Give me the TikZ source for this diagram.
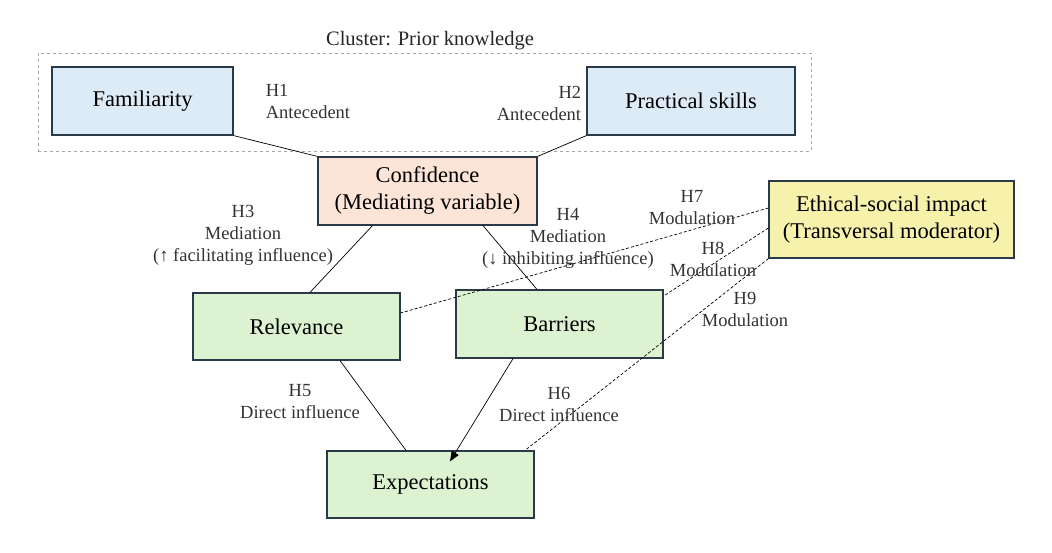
\documentclass[tikz,border=0pt]{standalone}
\usepackage{fontspec}
\setmainfont{Liberation Serif}
\usetikzlibrary{arrows.meta}
\definecolor{bluef}{HTML}{DDEBF7}
\definecolor{peach}{HTML}{FCE4D6}
\definecolor{greenf}{HTML}{DCF2D0}
\definecolor{yell}{HTML}{F6F2AC}
\definecolor{edge}{HTML}{2B3A48}
\begin{document}
\begin{tikzpicture}[x=1pt,y=-1pt,
 box/.style={draw=edge,line width=1.2pt,font=\fontsize{22.5}{27}\selectfont,align=center,inner sep=0pt},
 lab/.style={font=\fontsize{18.5}{22}\selectfont,align=center,text=black!80,inner sep=1pt},
 link/.style={line width=0.7pt},
 mod/.style={line width=0.7pt,dash pattern=on 3pt off 2pt}]
\useasboundingbox (0,0) rectangle (1052,553);
\node[draw=gray!70,dashed,minimum width=773pt,minimum height=98pt,inner sep=0pt] (cl) at (424.5,102) {};
\node[font=\fontsize{20.5}{24}\selectfont,text=black!85] (clt) at (430,41) {Cluster: Prior knowledge};
\node[box,fill=bluef,minimum width=181pt,minimum height=68pt] (fam) at (142.5,101) {Familiarity};
\node[box,fill=bluef,minimum width=208pt,minimum height=68pt] (pra) at (691,101) {Practical skills};
\node[box,fill=peach,minimum width=219pt,minimum height=68pt] (con) at (427.5,191) {Confidence\\(Mediating variable)};
\node[box,fill=yell,minimum width=245pt,minimum height=77pt] (eth) at (891.5,219.5) {Ethical-social impact\\(Transversal moderator)};
\node[box,fill=greenf,minimum width=207pt,minimum height=67pt] (rel) at (296.5,326.5) {Relevance};
\node[box,fill=greenf,minimum width=207pt,minimum height=68pt] (bar) at (559.5,324) {Barriers};
\node[box,fill=greenf,minimum width=207pt,minimum height=67pt] (exp) at (430.5,484.5) {Expectations};
\draw[link] (fam.south east) -- (con.north west);
\draw[link] (pra.south west) -- (con.north east);
\draw[link] ([xshift=-55pt]con.south) -- ([xshift=13.5pt]rel.north);
\draw[link] ([xshift=55.5pt]con.south) -- ([xshift=-22.5pt]bar.north);
\draw[link] ([xshift=43.5pt]rel.south) -- ([xshift=-24.5pt]exp.north);
\draw[link,-{Triangle[length=10pt,width=8pt]}] ([xshift=-46.5pt]bar.south) -- ([xshift=19.5pt,yshift=-11pt]exp.north);
\draw[mod] ([yshift=11.5pt]eth.west) -- ([yshift=13.5pt]rel.east);
\draw[mod] ([yshift=-8.5pt]eth.west) -- ([yshift=28pt]bar.east);
\draw[mod] (eth.south west) -- ([xshift=94.5pt]exp.north);
\node[lab,align=left] (h1) at (308,101) {H1\\Antecedent};
\node[lab,align=right] (h2) at (539,103) {H2\\Antecedent};
\node[lab] (h3) at (243,235) {H3\\Mediation\\(↑ facilitating influence)};
\node[lab] (h4) at (568,238) {H4\\Mediation\\(↓ inhibiting influence)};
\node[lab] (h7) at (692,208) {H7\\Modulation};
\node[lab] (h8) at (713,259) {H8\\Modulation};
\node[lab] (h9) at (745,309) {H9\\Modulation};
\node[lab] (h5) at (300,402) {H5\\Direct influence};
\node[lab] (h6) at (559,404) {H6\\Direct influence};
\end{tikzpicture}
\end{document}
